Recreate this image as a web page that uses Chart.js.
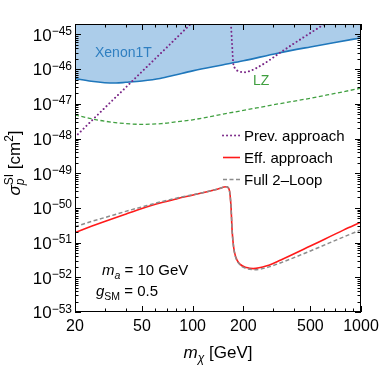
<!DOCTYPE html>
<html>
<head>
<meta charset="utf-8">
<title>Spin-independent cross section</title>
<script src="https://cdn.jsdelivr.net/npm/chart.js@4.4.1/dist/chart.umd.min.js"></script>
<style>
  html, body { margin: 0; padding: 0; background: #ffffff; }
  canvas { display: block; }
</style>
</head>
<body>
<canvas id="sigmaChart" width="382" height="365"></canvas>
<script>
// m_chi in GeV, sigma in cm^2
const xenonMass = [20, 25, 30, 35, 40, 50, 64, 80, 100, 150, 200, 320, 500, 700, 1000];
const xenonSigma = [5.37e-47, 4.47e-47, 4.07e-47, 3.98e-47, 4.17e-47, 4.57e-47, 5.37e-47, 6.92e-47, 8.91e-47, 1.32e-46, 1.74e-46, 2.88e-46, 4.37e-46, 5.89e-46, 7.94e-46];

const lzMass = [20, 25, 30, 40, 50, 65, 80, 100, 150, 200, 300, 500, 700, 1000];
const lzSigma = [4.79e-48, 3.72e-48, 3.16e-48, 2.69e-48, 2.57e-48, 2.69e-48, 3.02e-48, 3.47e-48, 5.01e-48, 6.46e-48, 9.33e-48, 1.45e-47, 2.0e-47, 2.82e-47];

const prevMass = [20, 30, 40, 50, 70, 100, 120, 140, 160, 167, 169, 171.5, 174, 178, 184, 193, 201, 220, 245, 280, 327, 440, 592, 800, 1000];
const prevSigma = [1.10e-48, 7.59e-48, 2.95e-47, 8.51e-47, 4.17e-46, 2.29e-45, 5.50e-45, 1.0e-44, 1.0e-44, 3.98e-45, 1.78e-45, 5.01e-46, 1.58e-46, 1.07e-46, 9.12e-47, 8.32e-47, 8.13e-47, 8.91e-47, 1.15e-46, 1.70e-46, 2.88e-46, 7.41e-46, 1.86e-45, 5.01e-45, 1.0e-44];

const effMass = [20, 25, 30, 40, 50, 64, 80, 98, 120, 140, 159, 165, 169, 171.5, 175, 180, 191, 209, 229, 276, 334, 500, 786, 1000];
const effSigma = [1.95e-51, 2.95e-51, 4.07e-51, 6.61e-51, 9.55e-51, 1.38e-50, 1.82e-50, 2.29e-50, 2.88e-50, 3.47e-50, 4.07e-50, 3.31e-50, 1.07e-50, 2.29e-51, 7.59e-52, 3.89e-52, 2.40e-52, 1.91e-52, 1.78e-52, 2.14e-52, 3.16e-52, 7.94e-52, 2.29e-51, 3.89e-51];

const fullMass = [20, 25, 30, 40, 50, 64, 80, 98, 120, 140, 159, 165, 169, 171.5, 175, 180, 191, 209, 235, 276, 334, 500, 786, 1000];
const fullSigma = [2.88e-51, 4.07e-51, 5.25e-51, 7.94e-51, 1.07e-50, 1.48e-50, 1.91e-50, 2.34e-50, 2.88e-50, 3.47e-50, 4.07e-50, 3.31e-50, 1.07e-50, 2.29e-51, 7.59e-52, 3.80e-52, 2.29e-52, 1.78e-52, 1.66e-52, 1.91e-52, 2.63e-52, 5.75e-52, 1.45e-51, 2.34e-51];

const xMajorTicks = [20, 50, 100, 200, 500, 1000];
const xMinorTicks = [30, 40, 60, 70, 80, 90, 300, 400, 600, 700, 800, 900];
const yExponents = [-53, -52, -51, -50, -49, -48, -47, -46, -45];

const FONT = '"Liberation Sans", Arial, sans-serif';
const Y_MIN = 1e-53;
const Y_MAX = 2e-45;

function points(xs, ys) {
    return xs.map((m, i) => ({ x: m, y: ys[i] }));
}

// draw a row of text pieces: [text, font, dy]
function drawRuns(ctx, runs, x, y) {
    let cx = x;
    for (const [text, font, dy] of runs) {
        ctx.font = font;
        ctx.fillText(text, cx, y + dy);
        cx += ctx.measureText(text).width;
    }
    return cx;
}

function runsWidth(ctx, runs) {
    let w = 0;
    for (const [text, font] of runs) {
        ctx.font = font;
        w += ctx.measureText(text).width;
    }
    return w;
}

const framePlugin = {
    id: 'framePlugin',
    afterDatasetsDraw(chart) {
        const { ctx, chartArea: a } = chart;
        const xs = chart.scales.x;
        const ys = chart.scales.y;
        ctx.save();

        // frame
        ctx.strokeStyle = '#000';
        ctx.lineWidth = 1;
        ctx.strokeRect(a.left + 0.5, a.top + 0.5, a.right - a.left - 1, a.bottom - a.top - 1);

        // ticks, pointing inward on all four sides
        ctx.beginPath();
        const xTick = (v, len) => {
            const px = Math.round(xs.getPixelForValue(v)) + 0.5;
            ctx.moveTo(px, a.bottom); ctx.lineTo(px, a.bottom - len);
            ctx.moveTo(px, a.top); ctx.lineTo(px, a.top + len);
        };
        const yTick = (v, len) => {
            const py = Math.round(ys.getPixelForValue(v)) + 0.5;
            ctx.moveTo(a.left, py); ctx.lineTo(a.left + len, py);
            ctx.moveTo(a.right, py); ctx.lineTo(a.right - len, py);
        };
        xMajorTicks.forEach(v => xTick(v, 6));
        xMinorTicks.forEach(v => xTick(v, 3.5));
        yExponents.forEach(e => {
            yTick(Math.pow(10, e), 6);
            for (let k = 2; k <= 9; k++) {
                const v = k * Math.pow(10, e);
                if (v <= Y_MAX) yTick(v, 3.5);
            }
        });
        ctx.stroke();

        ctx.fillStyle = '#000';
        ctx.textBaseline = 'alphabetic';

        // x tick labels
        ctx.textAlign = 'center';
        ctx.font = '16px ' + FONT;
        xMajorTicks.forEach(v => {
            ctx.fillText(String(v), xs.getPixelForValue(v), a.bottom + 19);
        });

        // y tick labels 10^n
        ctx.textAlign = 'left';
        yExponents.forEach(e => {
            const py = ys.getPixelForValue(Math.pow(10, e));
            const runs = [['10', '17px ' + FONT, 6.3], ['\u2212' + Math.abs(e), '12px ' + FONT, 0.5]];
            const w = runsWidth(ctx, runs);
            drawRuns(ctx, runs, a.left - 3 - w, py);
        });

        // x title
        const xRuns = [['m', 'italic 17px ' + FONT, 0], ['\u03C7', 'italic 12px ' + FONT, 4], [' [GeV]', '17px ' + FONT, 0]];
        const xw = runsWidth(ctx, xRuns);
        drawRuns(ctx, xRuns, (a.left + a.right) / 2 - xw / 2, 358);

        // y title, rotated
        ctx.save();
        ctx.translate(14, 163);
        ctx.rotate(-Math.PI / 2);
        ctx.font = 'italic 17px ' + FONT;
        const wSigma = ctx.measureText('\u03C3').width;
        ctx.font = '12px ' + FONT;
        const wSI = ctx.measureText('SI').width;
        const tail = [[' [cm', '17px ' + FONT, 0], ['2', '12px ' + FONT, -7], [']', '17px ' + FONT, 0]];
        const total = wSigma + wSI + runsWidth(ctx, tail);
        let tx = -total / 2;
        const base = 6;
        ctx.font = 'italic 17px ' + FONT;
        ctx.fillText('\u03C3', tx, base);
        tx += wSigma;
        ctx.font = '12px ' + FONT;
        ctx.fillText('SI', tx, base - 7);
        ctx.font = 'italic 12px ' + FONT;
        ctx.fillText('p', tx, base + 4);
        tx += wSI;
        drawRuns(ctx, tail, tx, base);
        ctx.restore();

        // curve labels
        ctx.fillStyle = '#2f7fc1';
        ctx.font = '14px ' + FONT;
        ctx.fillText('Xenon1T', 95, 57);
        ctx.fillStyle = '#3f9f3f';
        ctx.fillText('LZ', 253, 85);

        // parameters
        ctx.fillStyle = '#000';
        drawRuns(ctx, [['m', 'italic 15px ' + FONT, 0], ['a', 'italic 10.5px ' + FONT, 3.5], [' = 10 GeV', '15px ' + FONT, 0]], 102, 275);
        drawRuns(ctx, [['g', 'italic 15px ' + FONT, 0], ['SM', '10.5px ' + FONT, 4], [' = 0.5', '15px ' + FONT, 0]], 96, 296);

        // legend
        const legendRows = [
            { label: 'Prev. approach', ds: 0, y: 135.5 },
            { label: 'Eff. approach', ds: 3, y: 157.5 },
            { label: 'Full 2\u2013Loop', ds: 4, y: 179.5 }
        ];
        legendRows.forEach(row => {
            const d = chart.data.datasets[row.ds];
            ctx.save();
            ctx.strokeStyle = d.borderColor;
            ctx.lineWidth = d.borderWidth;
            ctx.lineCap = d.borderCapStyle || 'butt';
            ctx.setLineDash(d.borderDash || []);
            ctx.beginPath();
            ctx.moveTo(223, row.y);
            ctx.lineTo(240, row.y);
            ctx.stroke();
            ctx.restore();
            ctx.fillStyle = '#000';
            ctx.font = '15px ' + FONT;
            ctx.fillText(row.label, 244, row.y + 5.5);
        });

        ctx.restore();
    }
};

const ctx = document.getElementById('sigmaChart').getContext('2d');

const sigmaChart = new Chart(ctx, {
    type: 'line',
    data: {
        datasets: [
            {
                label: 'Prev. approach',
                data: points(prevMass, prevSigma),
                borderColor: '#7a2787',
                borderWidth: 2,
                borderDash: [0.01, 4],
                borderCapStyle: 'round',
                pointRadius: 0,
                cubicInterpolationMode: 'monotone',
                order: 2
            },
            {
                label: 'Xenon1T',
                data: points(xenonMass, xenonSigma),
                borderColor: '#1f77bb',
                borderWidth: 1.6,
                backgroundColor: 'rgba(96,160,214,0.52)',
                fill: 'end',
                pointRadius: 0,
                cubicInterpolationMode: 'monotone',
                order: 4
            },
            {
                label: 'LZ',
                data: points(lzMass, lzSigma),
                borderColor: '#41a041',
                borderWidth: 1.3,
                borderDash: [4, 2.5],
                pointRadius: 0,
                cubicInterpolationMode: 'monotone',
                order: 3
            },
            {
                label: 'Eff. approach',
                data: points(effMass, effSigma),
                borderColor: '#ff1a1a',
                borderWidth: 1.6,
                pointRadius: 0,
                cubicInterpolationMode: 'monotone',
                order: 1
            },
            {
                label: 'Full 2-Loop',
                data: points(fullMass, fullSigma),
                borderColor: '#8c8c8c',
                borderWidth: 1.5,
                borderDash: [4, 2.5],
                pointRadius: 0,
                cubicInterpolationMode: 'monotone',
                order: 0
            }
        ]
    },
    options: {
        responsive: false,
        animation: false,
        devicePixelRatio: 1,
        layout: { padding: { left: 75, right: 21, top: 24, bottom: 53 } },
        plugins: {
            legend: { display: false },
            tooltip: { enabled: false }
        },
        scales: {
            x: { type: 'logarithmic', min: 20, max: 1000, display: false },
            y: { type: 'logarithmic', min: Y_MIN, max: Y_MAX, display: false }
        }
    },
    plugins: [framePlugin]
});
</script>
</body>
</html>
